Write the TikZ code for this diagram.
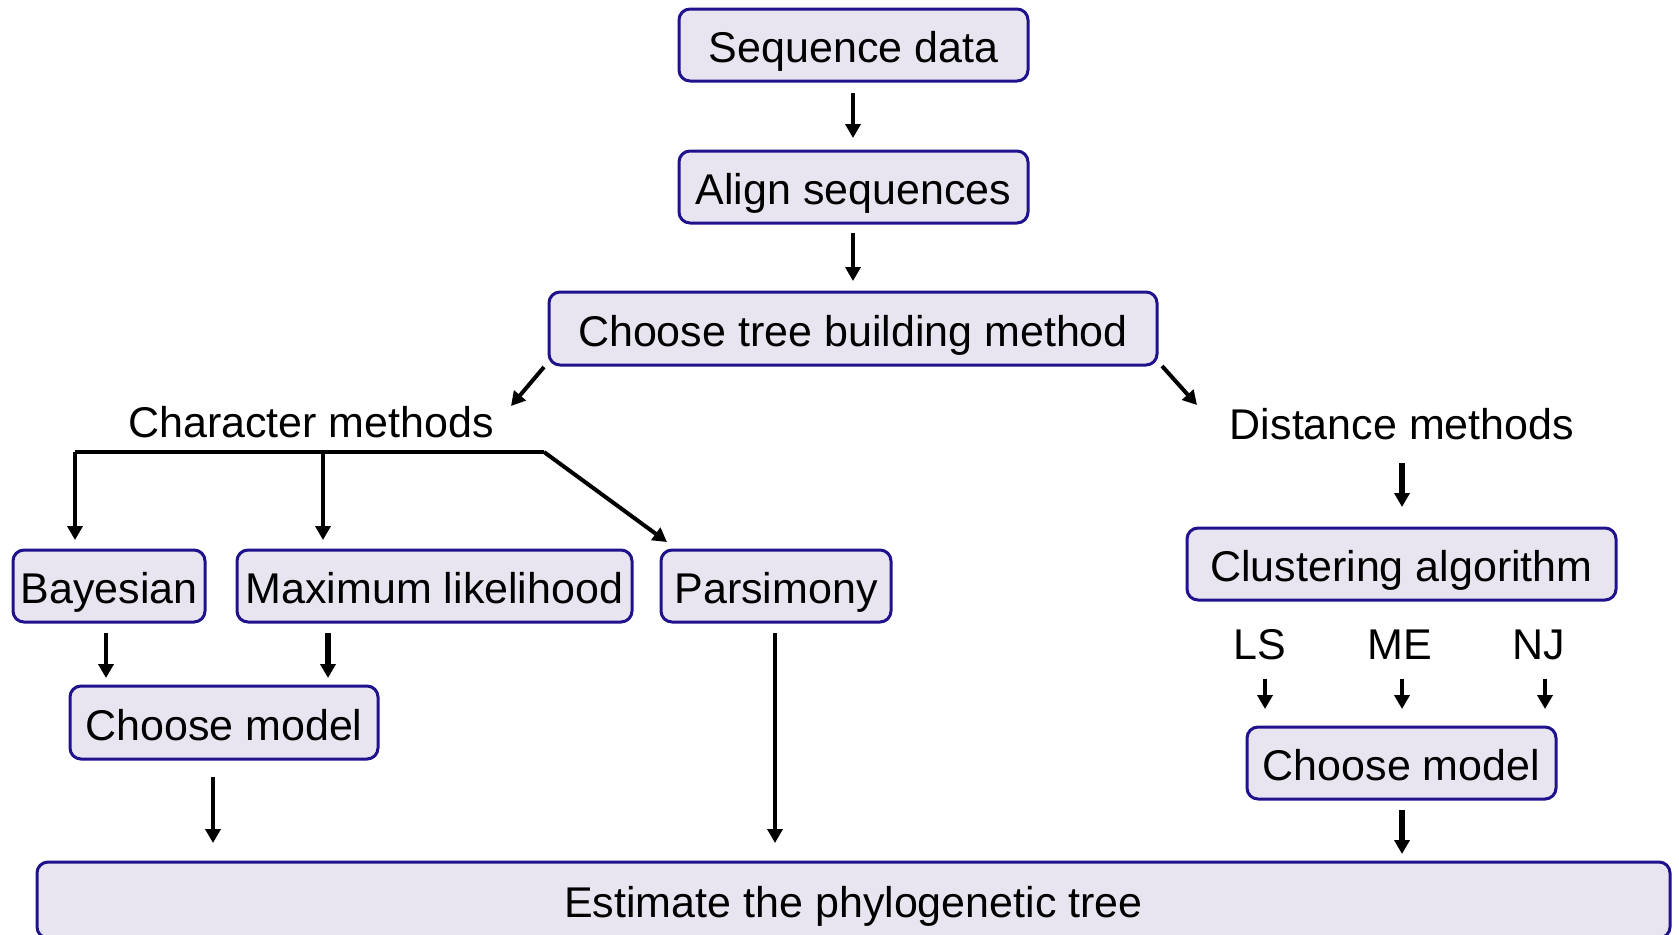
\documentclass[tikz,border=0pt]{standalone}
\usepackage{fontspec}
\setmainfont{Liberation Sans}
\usetikzlibrary{arrows.meta}
\definecolor{boxfill}{RGB}{233,229,240}
\definecolor{boxdraw}{RGB}{32,18,140}
\begin{document}
\begin{tikzpicture}[x=0.5pt,y=-0.5pt,
  every node/.style={font=\fontsize{21.5}{25}\selectfont, inner sep=0pt,
    text height=17.5pt, text depth=0pt},
  box/.style={draw=boxdraw, fill=boxfill, line width=1.5pt, rounded corners=5.5pt},
  lbl/.style={},
  arr/.style={line width=2pt, -{Triangle[length=7pt,width=7.5pt]}},
  arrb/.style={line width=2.6pt, -{Triangle[length=7pt,width=7.5pt]}},
  ln/.style={line width=2pt}]
\useasboundingbox (0,0) rectangle (1679,934);
\clip (0,0) rectangle (1679,934);
\fill[white] (0,0) rectangle (1679,934);

% boxes
\node[box, minimum width=174.5pt, minimum height=36pt] (seq) at (853.5,45) {Sequence data};
\node[box, minimum width=174.5pt, minimum height=36pt] (align) at (853.5,187) {Align sequences};
\node[box, minimum width=304pt, minimum height=36.5pt] (tree) at (853,328.5) {Choose tree building method};

\node[lbl] (charm) at (311,420) {Character methods};
\node[lbl] (distm) at (1402,422) {Distance methods};

\node[box, minimum width=96pt, minimum height=36pt] (bayes) at (109,586) {Bayesian};
\node[box, minimum width=197.5pt, minimum height=36pt] (ml) at (434.5,586) {Maximum likelihood};
\node[box, minimum width=115pt, minimum height=36pt] (pars) at (776,586) {Parsimony};
\node[box, minimum width=154pt, minimum height=36.5pt] (cml) at (224,722.5) {Choose model};

\node[box, minimum width=214.5pt, minimum height=36pt] (clust) at (1401.5,564) {Clustering algorithm};
\node[lbl] (ls) at (1260,642) {LS};
\node[lbl] (me) at (1400,642) {ME};
\node[lbl] (nj) at (1539,642) {NJ};
\node[box, minimum width=154.5pt, minimum height=36pt] (cmr) at (1401.5,763) {Choose model};

\node[box, minimum width=816.5pt, minimum height=38pt] (est) at (853.5,900) {Estimate the phylogenetic tree};

% connector end points
\coordinate (t1) at (853,93);   \coordinate (h1) at (853,138);
\coordinate (t2) at (853,233);  \coordinate (h2) at (853,281);
\coordinate (tl) at (544,367);  \coordinate (hl) at (511,406);
\coordinate (tr) at (1162,366); \coordinate (hr) at (1197,405);
\coordinate (bl) at (75,452);   \coordinate (bm) at (323,452);
\coordinate (br) at (544,452);
\coordinate (hb) at (75,540);   \coordinate (hm) at (323,540);
\coordinate (hp) at (667,542);
\coordinate (t3) at (106,633);  \coordinate (h3) at (106,678);
\coordinate (t4) at (328,633);  \coordinate (h4) at (328,678);
\coordinate (t5) at (213,777);  \coordinate (h5) at (213,843);
\coordinate (t6) at (775,633);  \coordinate (h6) at (775,843);
\coordinate (t7) at (1402,463); \coordinate (h7) at (1402,507);
\coordinate (t8) at (1265,679); \coordinate (h8) at (1265,709);
\coordinate (t9) at (1402,679); \coordinate (h9) at (1402,709);
\coordinate (t10) at (1545,679); \coordinate (h10) at (1545,709);
\coordinate (t11) at (1402,810); \coordinate (h11) at (1402,854);

% connectors
\draw[arr] (t1) -- (h1);
\draw[arr] (t2) -- (h2);
\draw[arr] (tl) -- (hl);
\draw[arr] (tr) -- (hr);
\draw[ln] (bl) -- (br);
\draw[arr] (bl) -- (hb);
\draw[arr] (bm) -- (hm);
\draw[arr] (br) -- (hp);
\draw[arr] (t3) -- (h3);
\draw[arrb] (t4) -- (h4);
\draw[arr] (t5) -- (h5);
\draw[arr] (t6) -- (h6);
\draw[arrb] (t7) -- (h7);
\draw[arr] (t8) -- (h8);
\draw[arr] (t9) -- (h9);
\draw[arr] (t10) -- (h10);
\draw[arrb] (t11) -- (h11);
\end{tikzpicture}
\end{document}
